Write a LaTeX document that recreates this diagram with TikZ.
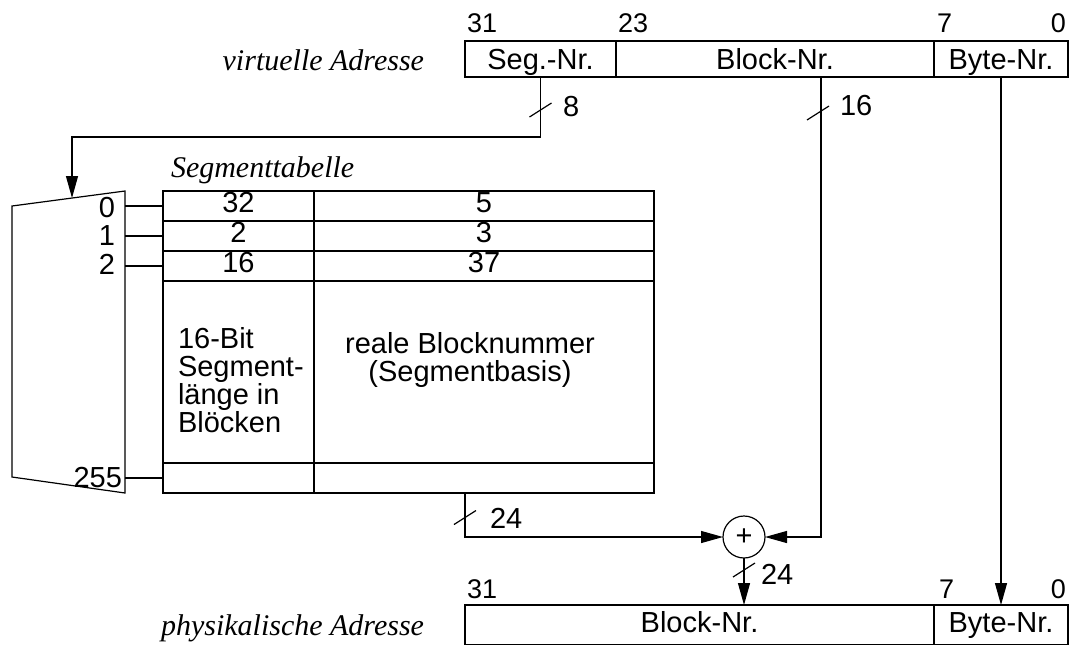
\documentclass[tikz,border=0pt]{standalone}
\usepackage{fontspec}
\setmainfont{Liberation Serif}
\setsansfont{Liberation Sans}
\usetikzlibrary{positioning, arrows.meta}
\newcommand{\busmark}[3]{%
  \draw (#1) ++(-11,7) -- ++(22,-14);
  \node[lbl, anchor=west] at (#2) {#3};}

\begin{document}
\begin{tikzpicture}[
  x=0.5pt, y=-0.5pt,
  line width=0.6pt,
  every node/.style={inner sep=0pt, outer sep=0pt},
  field/.style={draw, rectangle, minimum height=18pt, text height=10.5pt,
                text depth=0pt, font=\sffamily\fontsize{14.5}{14}\selectfont},
  pfield/.style={field, minimum height=20pt, text depth=3pt},
  cell/.style={draw, rectangle, minimum height=15pt, text height=10.5pt,
               text depth=3.6pt, font=\sffamily\fontsize{14.5}{14}\selectfont},
  numa/.style={cell, minimum width=75.5pt},
  numb/.style={cell, minimum width=170pt},
  bitno/.style={font=\sffamily\fontsize{13.5}{14}\selectfont},
  lbl/.style={font=\sffamily\fontsize{14.5}{14}\selectfont},
  note/.style={font=\sffamily\fontsize{14.5}{14}\selectfont},
  caption/.style={font=\itshape\fontsize{15}{18}\selectfont},
  sig/.style={-{Triangle[length=11pt, width=6pt]}},
]
  \useasboundingbox (0,0) rectangle (1070,644);

  % virtuelle Adresse
  \node[field, minimum width=75.5pt] (vseg) at (540.5,59) {Seg.-Nr.};
  \node[field, minimum width=159pt, right=0pt of vseg] (vblk) {Block-Nr.};
  \node[field, minimum width=67pt, right=0pt of vblk] (vbyte) {Byte-Nr.};
  \node[bitno, anchor=base west] at ([xshift=1pt, yshift=4.5pt]vseg.north west) {31};
  \node[bitno, anchor=base west] at ([xshift=1pt, yshift=4.5pt]vblk.north west) {23};
  \node[bitno, anchor=base west] at ([xshift=1.5pt, yshift=4.5pt]vbyte.north west) {7};
  \node[bitno, anchor=base east] at ([xshift=-1pt, yshift=4.5pt]vbyte.north east) {0};
  \node[caption, anchor=base east] at (424,70) {virtuelle Adresse};

  % physikalische Adresse
  \node[pfield, minimum width=234.5pt] (pblk) at (699.5,625) {Block-Nr.};
  \node[pfield, minimum width=67pt, right=0pt of pblk] (pbyte) {Byte-Nr.};
  \node[bitno, anchor=base west] at ([xshift=1pt, yshift=3.5pt]pblk.north west) {31};
  \node[bitno, anchor=base west] at ([xshift=2.5pt, yshift=3.5pt]pbyte.north west) {7};
  \node[bitno, anchor=base east] at ([xshift=-1pt, yshift=3.5pt]pbyte.north east) {0};
  \node[caption, anchor=base east] at (424,635) {physikalische Adresse};

  % Segmenttabelle
  \node[numa] (s0a) at (238.5,206) {32};
  \node[numb, right=0pt of s0a] (s0b) {5};
  \node[numa, below=0pt of s0a] (s1a) {2};
  \node[numb, right=0pt of s1a] (s1b) {3};
  \node[numa, below=0pt of s1a] (s2a) {16};
  \node[numb, right=0pt of s2a] (s2b) {37};
  \node[numa, minimum height=91pt, below=0pt of s2a] (sxa) {};
  \node[numb, minimum height=91pt, right=0pt of sxa] (sxb) {};
  \node[numa, below=0pt of sxa] (sla) {};
  \node[numb, right=0pt of sla] (slb) {};
  \node[note, align=left, anchor=west] (lentxt)
    at ([xshift=7.5pt, yshift=-4pt]sxa.west) {16-Bit\\Segment-\\länge in\\Blöcken};
  \node[note, align=center] (basetxt)
    at ([xshift=-7pt, yshift=6pt]sxb.center) {reale Blocknummer\\(Segmentbasis)};
  \node[caption, anchor=base west] at (171,177) {Segmenttabelle};

  % Auswahl
  \coordinate (mtl) at (12,206);
  \coordinate (mtr) at (125,191);
  \coordinate (mbr) at (125,493);
  \coordinate (mbl) at (12,477);
  \coordinate (muxin) at (72,198);
  \draw (mtl) -- (mtr) -- (mbr) -- (mbl) -- cycle;
  \foreach \r in {s0a,s1a,s2a,sla}
    \draw (\r.west -| mtr) -- (\r.west);
  \node[lbl, anchor=east, xshift=-5pt, yshift=-1pt] at (s0a.west -| mtr) {0};
  \node[lbl, anchor=east, xshift=-5pt] at (s1a.west -| mtr) {1};
  \node[lbl, anchor=east, xshift=-5pt, yshift=1pt] at (s2a.west -| mtr) {2};
  \node[lbl, anchor=east, xshift=-1.5pt] at (sla.west -| mtr) {255};

  % Addierer und Leitungen
  \node[circle, draw, minimum size=21pt, lbl] (sum) at (744,537) {+};
  \coordinate (segturn) at (540.5,137);
  \coordinate (blkx) at (821,0);
  \coordinate (tapx) at (465,0);
  \draw[sig] (vseg.south) -- (segturn) -| (muxin);
  \draw[sig] (vblk.south -| blkx) |- (sum.east);
  \draw[sig] (slb.south -| tapx) |- (sum.west);
  \draw[sig] (sum.south) -- (sum.south |- pblk.north);
  \draw[sig] (vbyte.south) -- (pbyte.north);

  \busmark{540.5,110}{563,107}{8}
  \busmark{818,113}{840,105.5}{16}
  \busmark{465,517.5}{490,518}{24}
  \busmark{744,570}{761,574}{24}
\end{tikzpicture}
\end{document}
